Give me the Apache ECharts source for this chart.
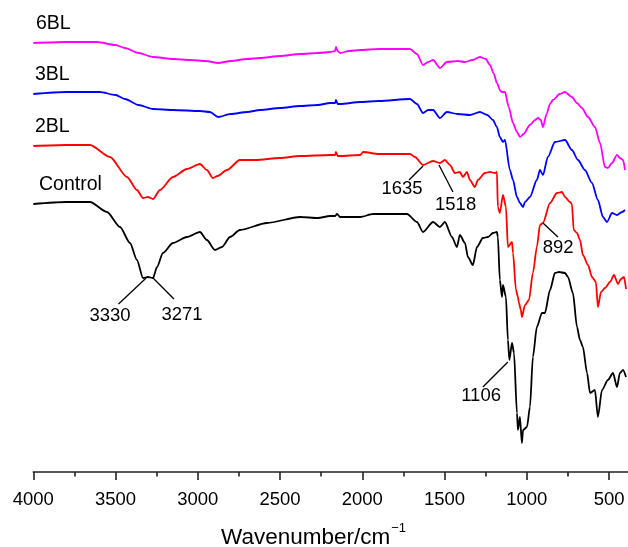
<!DOCTYPE html>
<html><head><meta charset="utf-8">
<script src="https://cdn.jsdelivr.net/npm/echarts@6/dist/echarts.min.js"></script>
<style>html,body{margin:0;padding:0;background:#fff}#c{width:628px;height:547px}</style>
</head><body><div id="c"></div>
<script>
// x: wavenumber (cm^-1), y: relative transmittance (arbitrary units, offset traces)
const seriesNames = ['6BL', '3BL', '2BL', 'Control'];
const majorTicks = [4000, 3500, 3000, 2500, 2000, 1500, 1000, 500];
const minorTicks = [3750, 3250, 2750, 2250, 1750, 1250, 750];

const sixBL = [[4000,429],[3800,430],[3613,430],[3500,427],[3443,424],[3360,419],[3272,415],[3150,413],[3047,412],[2950,411],[2877,409],[2800,411],[2700,413],[2622,414],[2500,416],[2379,418],[2270,419],[2196,420],[2165,421],[2160,425],[2150,421],[2135,419],[2080,421],[2013,422],[1900,423],[1710,423],[1668,418],[1631,407],[1600,410],[1570,412],[1528,404],[1486,410],[1420,411],[1377,410],[1330,412],[1285,415],[1250,413],[1224,407],[1200,398],[1182,389],[1160,381],[1151,380],[1133,380],[1110,365],[1084,349],[1060,340],[1041,335],[1020,338],[981,347],[950,352],[932,354],[915,352],[902,345],[880,358],[859,368],[841,372],[800,378],[768,380],[726,375],[695,369],[665,364],[628,355],[586,345],[555,329],[525,305],[507,304],[482,309],[452,317],[434,314],[415,312],[403,302]];

const threeBL = [[4000,378],[3800,380],[3595,380],[3500,377],[3443,373],[3360,367],[3272,363],[3150,362],[2987,361],[2926,360],[2877,355],[2800,358],[2700,360],[2622,362],[2500,364],[2379,366],[2270,367],[2196,369],[2165,369],[2160,372],[2150,368],[2135,368],[2013,370],[1900,371],[1710,373],[1668,368],[1631,359],[1600,362],[1570,362],[1528,354],[1486,360],[1420,358],[1346,357],[1285,360],[1240,357],[1206,352],[1182,345],[1164,335],[1145,330],[1133,332],[1103,302],[1084,292],[1060,275],[1042,269],[1023,265],[1011,270],[981,275],[939,292],[920,302],[902,297],[872,315],[829,330],[768,332],[726,322],[689,312],[647,302],[604,289],[568,272],[537,255],[513,250],[482,259],[452,257],[421,260],[403,262]];

const twoBL = [[4000,326],[3800,327],[3655,327],[3534,315],[3430,295],[3370,282],[3333,274],[3303,275],[3272,273],[3230,282],[3151,295],[3066,303],[2987,308],[2945,302],[2908,294],[2880,296],[2823,302],[2744,312],[2650,312],[2500,314],[2379,316],[2196,317],[2165,317],[2160,320],[2150,316],[2135,316],[2013,317],[1995,320],[1900,318],[1710,318],[1680,315],[1631,307],[1570,311],[1528,309],[1498,312],[1467,307],[1437,299],[1407,300],[1388,295],[1364,300],[1346,292],[1316,285],[1297,292],[1255,299],[1224,300],[1194,299],[1182,300],[1176,265],[1164,259],[1145,277],[1127,265],[1115,225],[1090,230],[1084,219],[1066,182],[1054,175],[1048,169],[1036,162],[1030,155],[1011,167],[987,172],[963,199],[939,225],[920,247],[902,249],[859,269],[817,279],[786,280],[768,275],[738,270],[726,268],[715,242],[695,239],[677,232],[659,217],[628,207],[604,195],[580,190],[568,165],[549,180],[525,184],[494,190],[470,197],[446,188],[428,193],[409,195],[397,183]];

const control = [[4000,268],[3800,270],[3655,270],[3552,260],[3473,245],[3412,229],[3370,212],[3333,194],[3303,195],[3272,194],[3248,205],[3212,219],[3151,229],[3066,235],[2987,240],[2945,232],[2896,222],[2853,225],[2804,235],[2744,242],[2580,249],[2379,255],[2270,254],[2196,256],[2165,256],[2154,258],[2135,255],[2013,255],[1935,258],[1728,258],[1668,250],[1631,240],[1570,250],[1528,245],[1498,250],[1455,235],[1425,225],[1407,237],[1376,229],[1358,215],[1328,207],[1303,225],[1267,234],[1236,235],[1206,239],[1182,240],[1176,235],[1164,192],[1151,175],[1145,187],[1127,175],[1115,132],[1106,112],[1090,129],[1078,119],[1060,59],[1054,42],[1042,55],[1030,29],[1023,42],[999,45],[981,65],[963,115],[939,145],[908,159],[890,159],[859,182],[829,199],[805,200],[768,199],[750,195],[720,179],[695,145],[677,132],[659,125],[634,99],[616,79],[586,82],[568,55],[543,82],[507,92],[476,99],[452,85],[434,99],[415,102],[397,95]];

// peak annotations: label, point on curve, end of leader line, label position (data units)
const annotLabels = ['3330', '3271', '1635', '1518', '892', '1106'];
const annotPeak = [[3314,194],[3272,194],[1631,306],[1534,307],[902,249],[1115,110]];
const annotEnd = [[3482,168],[3145,173],[1716,292],[1449,280],[811,235],[1267,85]];
const annotText = [[3534,156],[3096,157],[1759,283],[1433,267],[810,224],[1278,76]];

const FONT = '"Liberation Sans", Arial, Helvetica, sans-serif';
const colors = ['#ff00ff', '#0000ff', '#ff0000', '#000000'];
const curves = [sixBL, threeBL, twoBL, control];

const chart = echarts.init(document.getElementById('c'), null, {renderer: 'canvas'});

const series = curves.map((d, i) => ({
  name: seriesNames[i], type: 'line', data: d, showSymbol: false, symbol: 'none',
  smooth: 0.25, smoothMonotone: 'x',
  lineStyle: {color: colors[i], width: 1.8}, silent: true, z: 2
}));
annotLabels.forEach((lab, i) => {
  series.push({
    type: 'line', data: [annotPeak[i], annotEnd[i]], showSymbol: false, symbol: 'none',
    lineStyle: {color: '#000', width: 1.3}, silent: true, z: 3
  });
});
series.push({
  type: 'scatter', symbolSize: 0, silent: true, z: 4,
  itemStyle: {color: '#000', opacity: 0},
  data: annotLabels.map((lab, i) => ({name: lab, value: annotText[i]})),
  label: {show: true, position: 'inside', formatter: '{b}', color: '#000',
          textBorderWidth: 0, opacity: 1, fontSize: 18.5, fontFamily: FONT}
});

const labelYs = [24, 75, 127, 185];
const labelXs = [36, 35, 35, 39];

// measure title width so the superscript follows it
const mctx = document.createElement('canvas').getContext('2d');
const titleFont = '22.5px ' + FONT;
mctx.font = titleFont;
const titleW = mctx.measureText('Wavenumber/cm').width;
const titleX = 221;

chart.setOption({
  animation: false,
  backgroundColor: '#fff',
  grid: {left: 33.3, right: 0, top: 0, bottom: 75, containLabel: false},
  xAxis: [{
    type: 'value', min: 385, max: 4000, inverse: true,
    axisLine: {show: true, onZero: false, lineStyle: {color: '#222', width: 1.6}},
    axisTick: {show: true, customValues: majorTicks, length: 8, lineStyle: {color: '#222', width: 1.6}},
    axisLabel: {show: true, customValues: majorTicks, margin: 18, color: '#000', fontSize: 18.5, fontFamily: FONT,
                formatter: v => String(v)},
    splitLine: {show: false}
  }, {
    type: 'value', min: 385, max: 4000, inverse: true, position: 'bottom',
    axisLine: {show: false},
    axisTick: {show: true, customValues: minorTicks, length: 4.5, lineStyle: {color: '#222', width: 1.6}},
    axisLabel: {show: false},
    splitLine: {show: false}
  }],
  yAxis: {type: 'value', min: 0, max: 472, show: false},
  series: series,
  graphic: seriesNames.map((n, i) => ({
    type: 'text', silent: true,
    style: {text: n, x: labelXs[i], y: labelYs[i], fill: '#000', font: '19.5px ' + FONT, align: 'left', verticalAlign: 'middle'}
  })).concat([
    {type: 'text', silent: true, style: {text: 'Wavenumber/cm', x: titleX, y: 538, fill: '#000', font: titleFont, align: 'left', verticalAlign: 'middle'}},
    {type: 'text', silent: true, style: {text: '\u22121', x: titleX + titleW + 1, y: 528, fill: '#000', font: '13px ' + FONT, align: 'left', verticalAlign: 'middle'}}
  ])
});
</script>
</body></html>
